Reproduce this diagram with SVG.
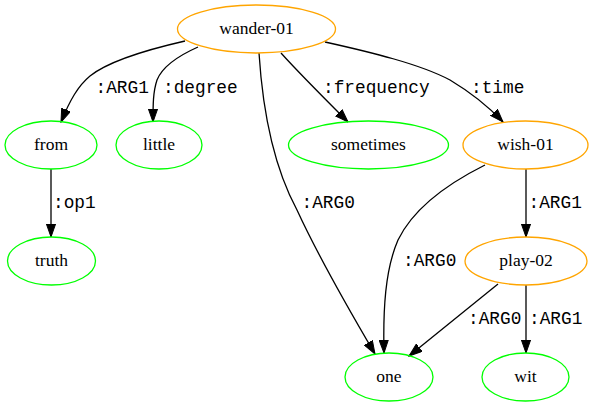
<svg xmlns="http://www.w3.org/2000/svg" width="594" height="407" viewBox="0 0 594 407">
<style>
.n ellipse{fill:none;stroke-width:1.3}
.o ellipse{stroke:#FFA500}
.g ellipse{stroke:#00FF00}
.n text{font-family:"Liberation Serif","Times New Roman",serif;font-size:17.5px;text-anchor:middle;fill:#000}
.e path{fill:none;stroke:#000;stroke-width:1.3;marker-end:url(#ah)}
.e text{font-family:"Liberation Mono","Courier New",monospace;font-size:17.8px;fill:#000}
</style>
<defs>
<marker id="ah" markerUnits="userSpaceOnUse" markerWidth="14" markerHeight="10" viewBox="0 -5 14 10" refX="13.3" refY="0" orient="auto">
<path d="M0,-4.7 L13.3,0 L0,4.7 Z" fill="#000" stroke="#000" stroke-width="1"/>
</marker>
</defs>
<rect width="594" height="407" fill="#fff"/>
<g id="edges" class="e">
<path d="M185,41 C150,49 110,60 90,76 C78,86 70,100 61,122"/>
<text x="95.5" y="92.5">:ARG1</text>
<path d="M198,47 C180,55 163,65 157,80 C153,92 153,105 153,122"/>
<text x="163" y="92.5">:degree</text>
<path d="M281,53 C298,72 330,104 348,122"/>
<text x="323" y="92.5">:frequency</text>
<path d="M325,42 C370,52 420,64 450,80 C470,92 488,106 503,122"/>
<text x="471" y="92.5">:time</text>
<path d="M259,53 C262,100 270,160 297,210 C320,260 355,320 375,354"/>
<text x="301.5" y="207.5">:ARG0</text>
<path d="M485,165 C455,180 415,205 398,240 C385,270 383,310 384,353"/>
<text x="403" y="266">:ARG0</text>
<path d="M526,169 L526,237"/>
<text x="528.5" y="207.5">:ARG1</text>
<path d="M498,284 L409,356"/>
<text x="468" y="324">:ARG0</text>
<path d="M526,285 L526,353"/>
<text x="529" y="324">:ARG1</text>
<path d="M51,169 L51,237"/>
<text x="53" y="207.5">:op1</text>
</g>
<g id="wander-01" class="n o"><ellipse cx="256.5" cy="29" rx="79" ry="24"/><text x="256.5" y="34">wander-01</text></g>
<g id="from" class="n g"><ellipse cx="51" cy="145" rx="46" ry="24"/><text x="51" y="150">from</text></g>
<g id="little" class="n g"><ellipse cx="159" cy="145" rx="43" ry="24"/><text x="159" y="150">little</text></g>
<g id="sometimes" class="n g"><ellipse cx="368.5" cy="145" rx="80" ry="24"/><text x="368.5" y="150">sometimes</text></g>
<g id="wish-01" class="n o"><ellipse cx="525.5" cy="145" rx="62.5" ry="24"/><text x="525.5" y="150">wish-01</text></g>
<g id="truth" class="n g"><ellipse cx="51.5" cy="261" rx="44" ry="24"/><text x="51.5" y="266">truth</text></g>
<g id="play-02" class="n o"><ellipse cx="526" cy="261" rx="61" ry="24"/><text x="526" y="266">play-02</text></g>
<g id="one" class="n g"><ellipse cx="389" cy="377" rx="44" ry="24"/><text x="389" y="382">one</text></g>
<g id="wit" class="n g"><ellipse cx="525.5" cy="377" rx="43.5" ry="24"/><text x="525.5" y="382">wit</text></g>
</svg>
